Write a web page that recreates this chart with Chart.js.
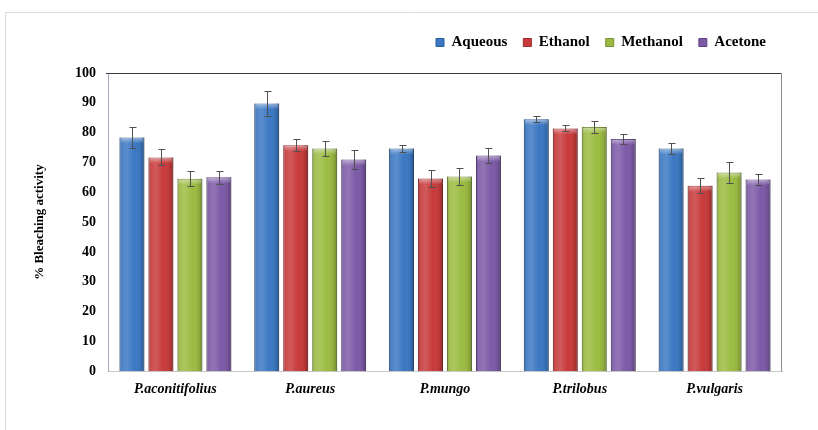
<!DOCTYPE html>
<html>
<head>
<meta charset="utf-8">
<script src="https://cdn.jsdelivr.net/npm/chart.js@4/dist/chart.umd.min.js"></script>
<style>
  html, body { margin: 0; padding: 0; background: #fff; }
  #wrap { position: relative; width: 818px; height: 430px; }
</style>
</head>
<body>
<div id="wrap"><canvas id="c" width="818" height="430"></canvas></div>
<script>
// Bleaching activity (%) of extracts, mean values and error (±)
const categories = ['P.aconitifolius', 'P.aureus', 'P.mungo', 'P.trilobus', 'P.vulgaris'];
const seriesNames = ['Aqueous', 'Ethanol', 'Methanol', 'Acetone'];

const aqueous     = [78.4, 89.8, 74.7, 84.5, 74.7];
const aqueousErr  = [3.4, 4.2, 1.1, 1.0, 1.8];
const ethanol     = [71.7, 75.8, 64.6, 81.4, 62.2];
const ethanolErr  = [2.7, 2.0, 2.9, 1.0, 2.5];
const methanol    = [64.5, 74.7, 65.3, 81.9, 66.6];
const methanolErr = [2.5, 2.5, 2.8, 2.0, 3.5];
const acetone     = [65.0, 71.0, 72.3, 77.9, 64.3];
const acetoneErr  = [2.1, 3.2, 2.6, 1.6, 1.7];

const yMin = 0, yMax = 100, yStep = 10;

const fills   = ['#3b78c3', '#c83a3b', '#9bbc41', '#7d5aa7'];
const borders = ['#2c5d98', '#9a2a2b', '#75913a', '#5d4283'];

const values = [aqueous, ethanol, methanol, acetone];
const errors = [aqueousErr, ethanolErr, methanolErr, acetoneErr];

const serif = "'Liberation Serif', 'Times New Roman', serif";

// Outer frame, cylinder shading on bars, error bars and plot frame
const decor = {
  id: 'decor',
  beforeDraw(chart) {
    const c = chart.ctx;
    c.save();
    c.strokeStyle = '#dcdcdc';
    c.lineWidth = 1;
    c.beginPath();
    c.moveTo(5.5, chart.height);
    c.lineTo(5.5, 12.5);
    c.lineTo(chart.width, 12.5);
    c.stroke();
    c.restore();
  },
  afterDatasetsDraw(chart) {
    const c = chart.ctx;
    const ys = chart.scales.y;
    const area = chart.chartArea;
    c.save();
    chart.data.datasets.forEach((ds, i) => {
      const meta = chart.getDatasetMeta(i);
      meta.data.forEach((el) => {
        const p = el.getProps(['x', 'y', 'base', 'width'], true);
        const l = p.x - p.width / 2, r = p.x + p.width / 2;
        const g = c.createLinearGradient(l, 0, r, 0);
        g.addColorStop(0, 'rgba(0,0,0,0.22)');
        g.addColorStop(0.12, 'rgba(255,255,255,0.10)');
        g.addColorStop(0.3, 'rgba(255,255,255,0.16)');
        g.addColorStop(0.6, 'rgba(255,255,255,0.0)');
        g.addColorStop(0.88, 'rgba(0,0,0,0.10)');
        g.addColorStop(1, 'rgba(0,0,0,0.30)');
        c.fillStyle = g;
        c.fillRect(l, p.y, p.width, p.base - p.y);
        // light cap along the top edge
        const tg = c.createLinearGradient(0, p.y, 0, p.y + 6);
        tg.addColorStop(0, 'rgba(255,255,255,0.45)');
        tg.addColorStop(1, 'rgba(255,255,255,0)');
        c.fillStyle = tg;
        c.fillRect(l + 1, p.y + 1, p.width - 2, 5);
      });
    });
    // error bars
    c.strokeStyle = '#505050';
    c.lineWidth = 1;
    chart.data.datasets.forEach((ds, i) => {
      const meta = chart.getDatasetMeta(i);
      meta.data.forEach((el, j) => {
        const v = ds.data[j], e = errors[i][j];
        const x = Math.round(el.x) + 0.5;
        const t = Math.round(ys.getPixelForValue(v + e)) + 0.5;
        const b = Math.round(ys.getPixelForValue(v - e)) + 0.5;
        c.beginPath();
        c.moveTo(x, t); c.lineTo(x, b);
        c.moveTo(x - 3, t); c.lineTo(x + 4, t);
        c.moveTo(x - 3, b); c.lineTo(x + 4, b);
        c.stroke();
      });
    });
    // top and right edges of the plot frame
    c.strokeStyle = '#3c3c3c';
    c.beginPath();
    c.moveTo(area.left - 2, Math.round(area.top) + 0.5);
    c.lineTo(area.right, Math.round(area.top) + 0.5);
    c.stroke();
    c.strokeStyle = '#8c8c8c';
    c.beginPath();
    c.moveTo(Math.round(area.right) - 0.5, area.top);
    c.lineTo(Math.round(area.right) - 0.5, area.bottom);
    c.stroke();
    c.restore();
  }
};

// Extra room between the legend and the plot
const legendGap = {
  id: 'legendGap',
  beforeInit(chart) {
    const lg = chart.legend;
    const fit = lg.fit;
    lg.fit = function () { fit.call(this); this.height += 13; };
  }
};

new Chart(document.getElementById('c'), {
  type: 'bar',
  data: {
    labels: categories,
    datasets: seriesNames.map((name, i) => ({
      label: name,
      data: values[i],
      backgroundColor: fills[i],
      borderColor: borders[i],
      borderWidth: 1,
      borderSkipped: 'bottom',
      categoryPercentage: 0.86,
      barPercentage: 0.86
    }))
  },
  options: {
    responsive: false,
    animation: false,
    devicePixelRatio: 1,
    layout: { padding: { top: 19, right: 36, bottom: 22, left: 0 } },
    plugins: {
      tooltip: { enabled: false },
      legend: {
        position: 'top',
        align: 'end',
        labels: {
          boxWidth: 8,
          boxHeight: 8,
          padding: 16,
          color: '#000',
          font: { family: serif, size: 15, weight: 'bold' }
        }
      }
    },
    scales: {
      x: {
        grid: { display: false, drawTicks: false },
        border: { color: '#c8c8c8' },
        ticks: {
          color: '#000',
          padding: 10,
          font: { family: serif, size: 14, weight: 'bold', style: 'italic' }
        }
      },
      y: {
        min: yMin,
        max: yMax,
        afterFit(scale) { scale.width = 108; },
        grid: { display: false, drawTicks: false },
        border: { color: '#a0aabb' },
        ticks: {
          stepSize: yStep,
          color: '#000',
          padding: 12,
          font: { family: serif, size: 14, weight: 'bold' }
        },
        title: {
          display: true,
          text: '% Bleaching activity',
          color: '#000',
          padding: { top: 32, bottom: 0 },
          font: { family: serif, size: 13, weight: 'bold' }
        }
      }
    }
  },
  plugins: [decor, legendGap]
});
</script>
</body>
</html>
